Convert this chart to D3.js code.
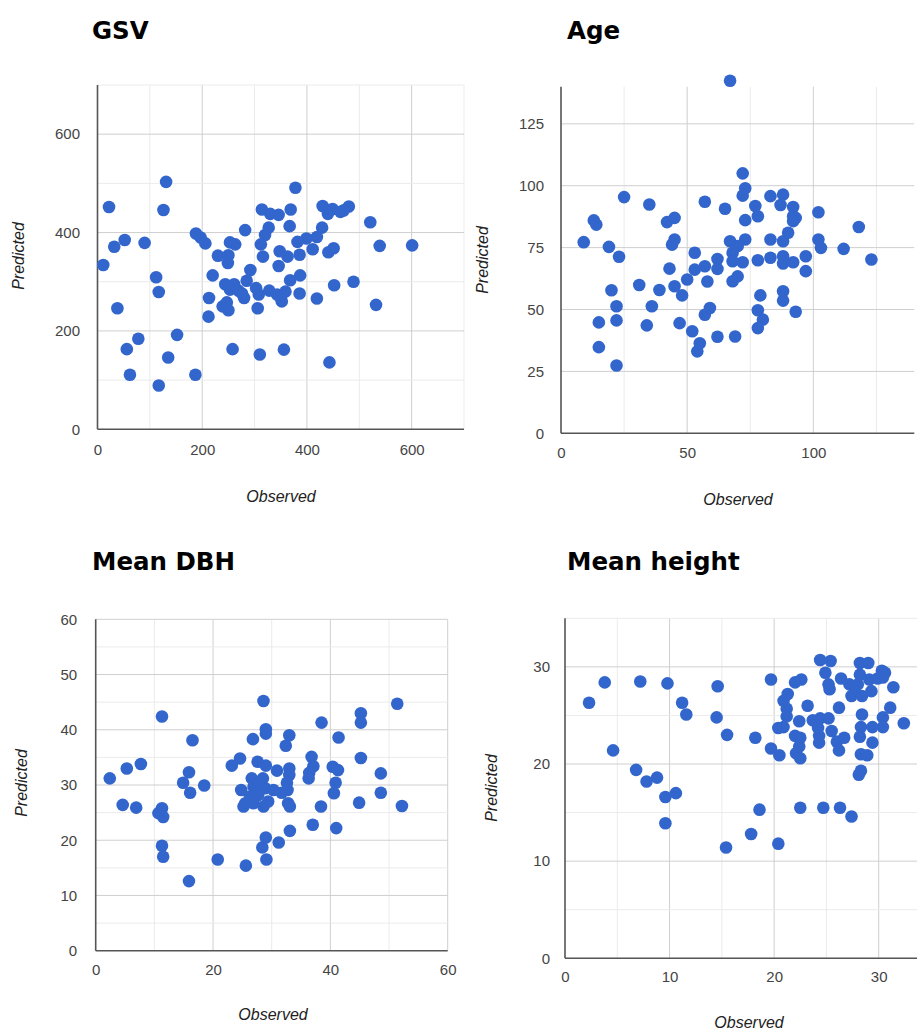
<!DOCTYPE html>
<html><head><meta charset="utf-8">
<script src="https://cdn.jsdelivr.net/npm/d3@7"></script>
<style>body{margin:0;background:#fff} svg{display:block}</style>
</head><body>
<svg id="c" width="917" height="1031"></svg>
<script>
// ---- data: [observed, predicted] ----
const panelTitles = ["GSV", "Age", "Mean DBH", "Mean height"];
const axisTitleX = "Observed";
const axisTitleY = "Predicted";

const gsvPoints = [[131,503],[22,452],[126,446],[378,491],[314,447],[330,438],[346,436],[369,447],[430,454],[449,448],[440,438],[464,442],[480,453],[470,445],[521,421],[282,405],[327,410],[367,413],[429,410],[320,395],[312,376],[419,391],[399,388],[382,381],[411,366],[441,360],[451,368],[539,373],[601,374],[386,355],[348,362],[363,351],[316,351],[346,332],[188,398],[197,390],[206,378],[253,380],[263,376],[230,353],[250,354],[249,338],[11,334],[32,371],[52,385],[90,379],[112,309],[117,279],[38,246],[220,313],[292,324],[285,302],[244,295],[261,295],[253,284],[269,282],[280,267],[276,276],[303,287],[308,274],[328,282],[343,274],[352,260],[359,280],[350,267],[368,303],[387,313],[386,276],[419,266],[452,293],[489,300],[532,253],[213,267],[212,229],[239,250],[247,258],[250,242],[306,246],[78,184],[56,163],[152,192],[135,146],[62,111],[117,89],[187,111],[258,163],[310,152],[356,162],[443,136]];

const agePoints = [[67,142.4],[72,105],[73,99],[72,96],[25,95.4],[35,92.4],[57,93.5],[65,90.7],[83,95.8],[88,96.4],[87,92.2],[92,91.4],[77,91.8],[78,87.7],[73,86.1],[92,87.7],[93,87],[92,85.7],[102,89.3],[13,86],[14,84.3],[42,85.3],[45,87],[45,78.3],[44,76.2],[118,83.3],[9,77.2],[19,75.3],[23,71.3],[53,72.9],[67,77.6],[73,78.3],[70,75.6],[68,72.9],[68,69.5],[72,69.1],[83,78.3],[90,81],[88,77.6],[83,70.9],[78,69.9],[88,71.5],[88,68.6],[92,69.1],[97,71.5],[97,65.5],[102,78.3],[103,74.9],[112,74.5],[123,70.2],[62,70.4],[62,66.4],[53,66.1],[57,67.5],[43,66.5],[50,62.1],[58,61.3],[68,61.4],[70,63.4],[31,59.9],[39,57.9],[20,57.8],[45,59.4],[48,55.7],[79,55.7],[88,57.4],[88,53.6],[22,51.3],[36,51.3],[59,50.6],[57,47.9],[78,49.7],[80,45.9],[78,42.5],[93,49.1],[15,44.8],[22,45.6],[34,43.6],[47,44.5],[52,41.2],[55,36.4],[54,33.1],[62,39],[69,39.1],[15,34.8],[22,27.4]];

const dbhPoints = [[28.6,45.2],[51.4,44.7],[11.3,42.4],[45.2,43.0],[45.2,41.3],[38.5,41.3],[16.5,38.1],[29,40.1],[29,39.3],[26.8,38.3],[33,39],[32.4,37.1],[41.4,38.6],[45.2,34.9],[2.4,31.2],[5.3,33],[7.7,33.8],[4.6,26.4],[6.9,25.9],[11.3,25.8],[10.7,24.9],[11.5,24.2],[11.3,19],[11.5,17],[15.9,12.6],[15.9,32.3],[14.9,30.4],[16.1,28.6],[18.5,29.9],[20.8,16.5],[25.6,15.4],[29.1,16.5],[28.4,18.7],[29,20.5],[31.2,19.6],[33.1,21.7],[37,22.8],[41,22.2],[23.2,33.5],[24.6,34.8],[24.8,29.1],[25.2,26.1],[25.5,26.7],[27.6,34.2],[29,33.5],[30.9,32.6],[26.6,31.2],[28.5,31.2],[26.9,29.7],[28,30.3],[28.9,29.4],[30.3,29.1],[26.3,27.9],[27.7,28.2],[26.9,26.7],[28.6,26.1],[29.4,27],[31.7,28.6],[33,33],[33,31.8],[32.6,30.4],[32.7,29.1],[32.8,26.7],[33.1,26.1],[36.8,35.1],[37.1,33.4],[36.4,32.2],[36.3,31.2],[40.4,33.3],[41.3,32.7],[40.9,30.4],[40.6,28.5],[38.4,26.1],[44.9,26.8],[48.6,32.1],[48.6,28.6],[52.2,26.2]];

const heightPoints = [[2.3,26.3],[3.8,28.4],[4.6,21.4],[7.2,28.5],[9.8,28.3],[6.8,19.4],[7.8,18.2],[8.8,18.6],[9.6,16.6],[10.6,17],[9.6,13.9],[11.2,26.3],[11.6,25.1],[14.6,28],[14.5,24.8],[15.5,23],[15.4,11.4],[17.8,12.8],[18.6,15.3],[18.2,22.7],[19.7,28.7],[19.7,21.6],[20.4,11.8],[22.5,15.5],[24.7,15.5],[26.3,15.5],[27.4,14.6],[28.1,18.9],[28.3,19.3],[20.5,20.9],[20.4,23.7],[20.9,23.8],[20.9,26.5],[21.3,27.2],[21.2,25.7],[21.2,24.9],[22,28.4],[22.6,28.7],[22.4,24.4],[22,22.9],[22.5,22.7],[22.4,21.8],[22.1,21.1],[22.5,20.6],[23.2,26],[23.7,24.5],[24.4,24.7],[24.2,23.7],[24.3,22.9],[24.3,22.2],[25.2,24.7],[25.5,23.4],[26,22.3],[26.2,21.4],[26.7,22.7],[26.2,25.8],[24.4,30.7],[25.4,30.6],[24.9,29.4],[25.2,28.2],[25.3,27.7],[26.4,28.8],[27.2,28.2],[27.4,27],[27.7,27.3],[28.2,30.4],[29,30.4],[28.2,29.2],[28,28.2],[28.4,27],[29.3,27.5],[29.1,28.7],[30.3,29.6],[30.4,28.9],[29.9,28.8],[30.6,29.4],[31.4,27.9],[31.1,25.8],[30.4,24.8],[30.4,23.8],[28.4,25.1],[28.3,23.8],[28.2,22.8],[29.4,23.8],[29.4,22.2],[28.3,21],[28.9,20.9],[32.4,24.2]];

const gsvXTicks = [0,200,400,600], gsvYTicks = [0,200,400,600];
const ageXTicks = [0,50,100], ageYTicks = [0,25,50,75,100,125];
const dbhXTicks = [0,20,40,60], dbhYTicks = [0,10,20,30,40,50,60];
const heightXTicks = [0,10,20,30], heightYTicks = [0,10,20,30];

// ---- layout ----
const panels = [
  {title: panelTitles[0], pts: gsvPoints, xMax: 700, yMax: 700, xTicks: gsvXTicks, yTicks: gsvYTicks,
   xStep: 100, xMajor: 200, yStep: 100, yMajor: 200,
   box: [97.5, 85, 464, 429.3], tpos: [92, 38.5], ylab: [24, 256], xlab: [281, 502], xpad: 15.5, ypad: 17.5},
  {title: panelTitles[1], pts: agePoints, xMax: 140, yMax: 140, xTicks: ageXTicks, yTicks: ageYTicks,
   xStep: 25, xMajor: 50, yStep: 25, yMajor: 25,
   box: [561, 86.7, 914.3, 433.3], tpos: [567, 38.5], ylab: [488, 260], xlab: [738, 505], xpad: 14.5, ypad: 17},
  {title: panelTitles[2], pts: dbhPoints, xMax: 60, yMax: 60, xTicks: dbhXTicks, yTicks: dbhYTicks,
   xStep: 10, xMajor: 20, yStep: 5, yMajor: 10,
   box: [95.7, 619.3, 447.7, 950.7], tpos: [92, 570], ylab: [27, 783], xlab: [273, 1020], xpad: 14, ypad: 18.5},
  {title: panelTitles[3], pts: heightPoints, xMax: 35, yMax: 35, xTicks: heightXTicks, yTicks: heightYTicks,
   xStep: 5, xMajor: 10, yStep: 5, yMajor: 10,
   box: [565, 618.3, 931, 958.3], tpos: [567, 570], ylab: [497, 788], xlab: [749, 1028], xpad: 13.5, ypad: 15}
];

const svg = d3.select("#c");
const tickFont = "'Liberation Sans', Arial, sans-serif";

panels.forEach(p => {
  const [l, t, r, b] = p.box;
  const x = d3.scaleLinear().domain([0, p.xMax]).range([l, r]);
  const y = d3.scaleLinear().domain([0, p.yMax]).range([b, t]);
  const g = svg.append("g");

  const isMajor = (v, m) => Math.abs(v / m - Math.round(v / m)) < 1e-6;
  // grid
  const xs = d3.range(p.xStep, p.xMax + 1e-9, p.xStep);
  const ys = d3.range(p.yStep, p.yMax + 1e-9, p.yStep);
  g.selectAll(null).data(xs).join("line")
    .attr("x1", d => x(d)).attr("x2", d => x(d)).attr("y1", t).attr("y2", b)
    .attr("stroke", d => isMajor(d, p.xMajor) ? "#cfcfcf" : "#ebebeb").attr("stroke-width", 1);
  g.selectAll(null).data(ys).join("line")
    .attr("x1", l).attr("x2", r).attr("y1", d => y(d)).attr("y2", d => y(d))
    .attr("stroke", d => isMajor(d, p.yMajor) ? "#cfcfcf" : "#ebebeb").attr("stroke-width", 1);

  // axes (labels)
  const ax = g.append("g").attr("transform", `translate(0,${b})`)
    .call(d3.axisBottom(x).tickValues(p.xTicks).tickSize(0).tickPadding(p.xpad).tickFormat(d3.format("d")));
  const ay = g.append("g").attr("transform", `translate(${l},0)`)
    .call(d3.axisLeft(y).tickValues(p.yTicks).tickSize(0).tickPadding(p.ypad).tickFormat(d3.format("d")));
  [ax, ay].forEach(a => {
    a.select(".domain").remove();
    a.selectAll("text").attr("fill", "#444").style("font-family", tickFont).style("font-size", "15px");
  });

  // axis lines
  g.append("line").attr("x1", l).attr("x2", r).attr("y1", b).attr("y2", b).attr("stroke", "#555").attr("stroke-width", 1.6);
  g.append("line").attr("x1", l).attr("x2", l).attr("y1", t).attr("y2", b).attr("stroke", "#555").attr("stroke-width", 1.6);

  // axis titles
  g.append("text").attr("x", p.xlab[0]).attr("y", p.xlab[1]).attr("text-anchor", "middle")
    .style("font-family", tickFont).style("font-size", "16px").style("font-style", "italic").attr("fill", "#222")
    .text(axisTitleX);
  g.append("text").attr("transform", `translate(${p.ylab[0]},${p.ylab[1]}) rotate(-90)`).attr("text-anchor", "middle")
    .style("font-family", tickFont).style("font-size", "16px").style("font-style", "italic").attr("fill", "#222")
    .text(axisTitleY);

  // title
  svg.append("text").attr("x", p.tpos[0]).attr("y", p.tpos[1])
    .style("font-family", "'DejaVu Sans', sans-serif").style("font-weight", "700").style("font-size", "24.5px")
    .attr("fill", "#000").text(p.title);

  // points
  g.selectAll(null).data(p.pts).join("circle")
    .attr("cx", d => x(d[0])).attr("cy", d => y(d[1])).attr("r", 6.3).attr("fill", "#3366cc");
});
</script>
</body></html>
